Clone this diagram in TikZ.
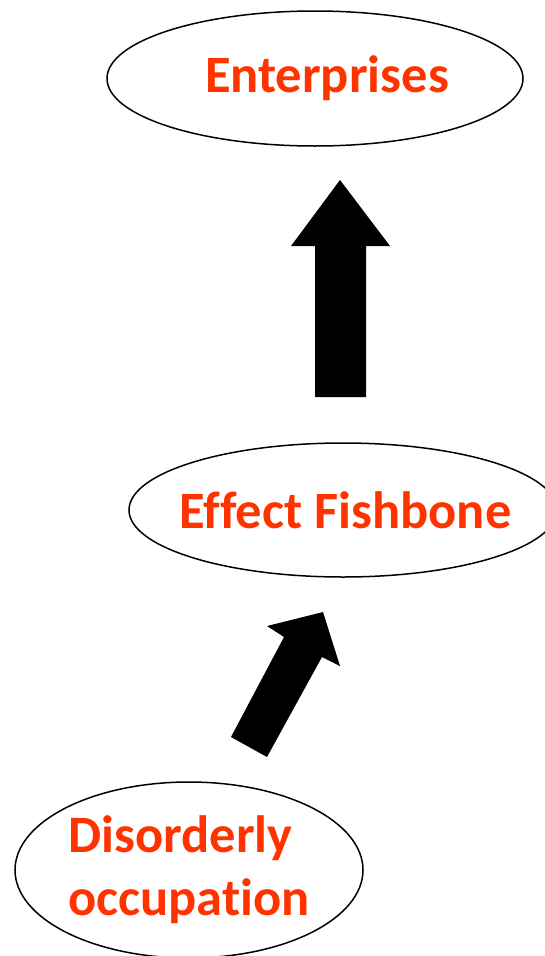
\documentclass[tikz,border=0pt]{standalone}
\usepackage{fontspec}
\setmainfont[Ligatures=NoCommon]{Carlito}
\usetikzlibrary{shapes.geometric}
\definecolor{labelred}{RGB}{255,51,0}

\begin{document}
\begin{tikzpicture}[
  x=1pt, y=-1pt,
  every node/.style={inner sep=0pt},
  bubble/.style={ellipse, draw, line width=1.5pt, text=labelred,
    font=\fontsize{52.5}{63}\selectfont\bfseries},
  blockarrow/.style={fill=black},
]

% ── Canvas (pixel grid of the reference, y downwards) ────────────────────────
\useasboundingbox (0,0) rectangle (544,956);

% ── Ellipses ─────────────────────────────────────────────────────────────────
% text kept in zero-width boxes so the ellipse size stays fixed
\node[bubble, minimum width=416pt, minimum height=135pt] (ent) at (315,78.5)
  {\makebox[0pt]{\hspace*{24pt}Enterprises}};
\node[bubble, minimum width=428pt, minimum height=134pt] (fish) at (343,510)
  {\makebox[0pt]{\hspace*{5pt}Effect Fishbone}};
\node[bubble, minimum width=348pt, minimum height=176pt, align=left] (dis)
  at (189,870) {Disorderly\\occupation};

% ── Block arrows (hand-placed polygons) ──────────────────────────────────────
% dis -> fish, tilted
\fill[blockarrow] (231,737) -- (284,637) -- (267,626) -- (323,612)
  -- (340,666) -- (322,657) -- (267,757) -- cycle;
% fish -> ent, upright
\fill[blockarrow] (315,397) -- (315,246) -- (291,246) -- (340,180)
  -- (390,246) -- (366,246) -- (366,397) -- cycle;

\end{tikzpicture}
\end{document}
